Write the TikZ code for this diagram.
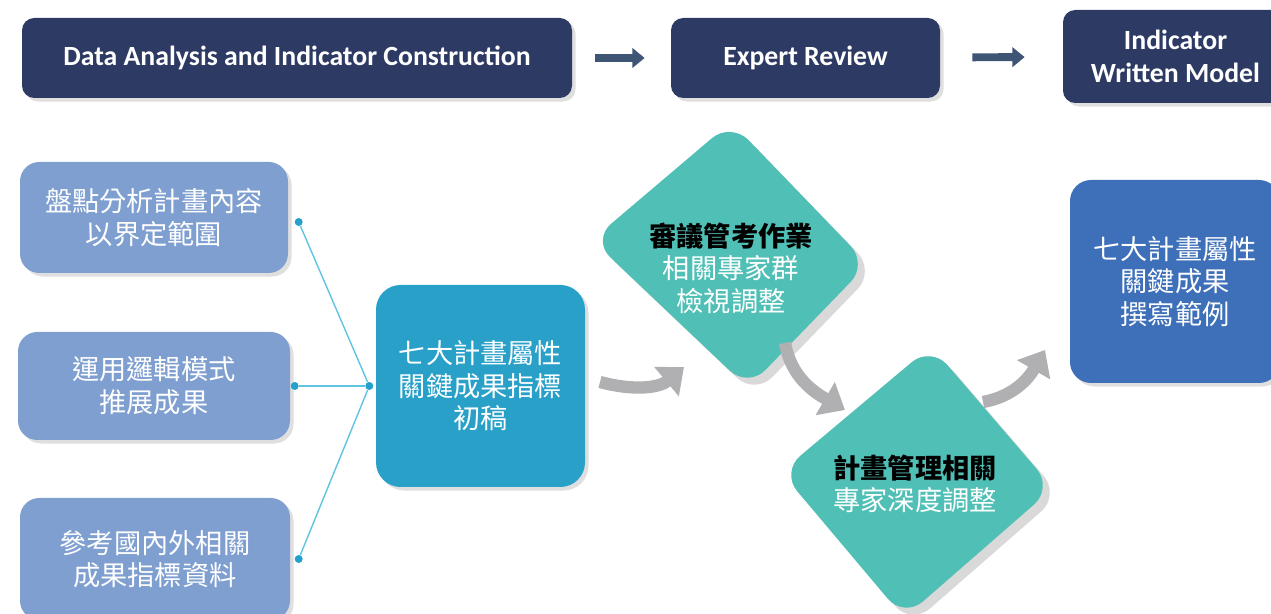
\documentclass[tikz,border=0pt]{standalone}
\usepackage{fontspec}
\setmainfont{Carlito}
\newfontfamily\cjk{Noto Sans CJK TC}
\usetikzlibrary{positioning, calc}
\usetikzlibrary{shadows}
\usetikzlibrary{arrows.meta}

\definecolor{navy}{RGB}{45,58,100}
\definecolor{navyarrow}{RGB}{62,85,118}
\definecolor{srcblue}{RGB}{126,159,207}
\definecolor{draftblue}{RGB}{40,160,200}
\definecolor{teal}{RGB}{80,192,182}
\definecolor{resblue}{RGB}{62,112,185}
\definecolor{arrowgray}{RGB}{176,176,178}
\definecolor{linkblue}{RGB}{96,196,224}
\definecolor{dotblue}{RGB}{38,160,205}

\tikzset{
    softshadow/.style={drop shadow={opacity=0.25, shadow xshift=2pt, shadow yshift=-2pt}},
    headbox/.style={fill=navy, rounded corners=7pt, text=white, align=center, inner sep=0pt,
        font=\bfseries\fontsize{15.8}{18.5}\selectfont, minimum height=1.6cm, softshadow},
    srcbox/.style={fill=srcblue, rounded corners=11pt, text=white, align=center, inner sep=0pt,
        font=\cjk\fontsize{15.5}{18.5}\selectfont, softshadow},
    cjktext/.style={text=white, align=center, font=\cjk\fontsize{15.5}{18.5}\selectfont},
    diam/.style={fill=teal, rounded corners=0.5cm, drop shadow={opacity=0.3, shadow xshift=4pt, shadow yshift=-4pt}},
    dot/.style={circle, fill=dotblue, inner sep=0pt, minimum size=0.16cm},
    link/.style={draw=linkblue, line width=0.8pt},
    toparrow/.style={draw=navyarrow, line width=4.5pt, -{Triangle[width=11pt,length=7pt]}},
    bendarrow/.style={draw=arrowgray, line width=7pt, -{Triangle[width=21pt,length=13pt]}}
}

\begin{document}
\begin{tikzpicture}
    \useasboundingbox (0,0) rectangle (25.42,12.28);

    % top row
    \node[headbox, minimum width=11cm] (analysis) at (5.94,11.12) {Data Analysis and Indicator Construction};
    \node[headbox, minimum width=5.38cm] (expert) at (16.11,11.12) {Expert Review};
    \node[headbox, minimum width=4.5cm, minimum height=1.86cm] (model) at (23.51,11.15) {Indicator\\Written Model};
    \draw[toparrow, shorten <=0.46cm, shorten >=0.52cm] (analysis) -- (expert);
    \draw[toparrow, shorten <=0.64cm, shorten >=0.76cm] (expert) -- (model);

    % sources on the left
    \node[srcbox, minimum width=5.36cm, minimum height=2.22cm] (scope) at (3.08,7.93) {盤點分析計畫內容\\以界定範圍};
    \node[srcbox, minimum width=5.44cm, minimum height=2.16cm] (logic) at (3.08,4.56) {運用邏輯模式\\推展成果};
    \node[srcbox, minimum width=5.4cm, minimum height=2.44cm] (refs) at (3.1,1.1) {參考國內外相關\\成果指標資料};
    \node[dot, right=0.12cm of scope.east, yshift=-0.09cm] (dscope) {};
    \node[dot, right=0.0cm of logic.east] (dlogic) {};
    \node[dot, right=0.08cm of refs.east] (drefs) {};

    % first draft
    \node[srcbox, fill=draftblue, rounded corners=14pt, minimum width=4.18cm, minimum height=4.04cm] (draft) at (9.61,4.56) {七大計畫屬性\\關鍵成果指標\\初稿};
    \node[dot, left=0.04cm of draft.west] (hub) {};
    \draw[link] (dscope) -- (hub);
    \draw[link] (dlogic) -- (hub);
    \draw[link] (drefs) -- (hub);

    % expert rounds
    \path[diam] (14.62,9.84) -- (17.36,7.0) -- (14.96,4.52) -- (11.84,7.48) -- cycle;
    \node[cjktext] (review) at (14.62,6.92) {{\bfseries\color{black}審議管考作業}\\相關專家群\\檢視調整};
    \path[diam] (18.62,5.36) -- (21.06,2.52) -- (18.08,-0.08) -- (15.62,2.84) -- cycle;
    \node[cjktext] (mgmt) at (18.3,2.6) {{\bfseries\color{black}計畫管理相關}\\專家深度調整};

    % result
    \node[srcbox, fill=resblue, rounded corners=12pt, minimum width=4.2cm, minimum height=4.06cm] (result) at (23.5,6.65) {七大計畫屬性\\關鍵成果\\撰寫範例};

    \coordinate (a1s) at (12.0,4.64);
    \coordinate (a1e) at (13.68,4.94);
    \coordinate (a2s) at (15.7,5.42);
    \coordinate (a2e) at (16.9,4.08);
    \coordinate (a3s) at (19.66,4.24);
    \coordinate (a3e) at (20.9,5.28);
    \draw[bendarrow] (a1s) to[out=-15, in=220] (a1e);
    \draw[bendarrow] (a2s) to[out=-80, in=150] (a2e);
    \draw[bendarrow] (a3s) to[out=10, in=240] (a3e);
\end{tikzpicture}
\end{document}
